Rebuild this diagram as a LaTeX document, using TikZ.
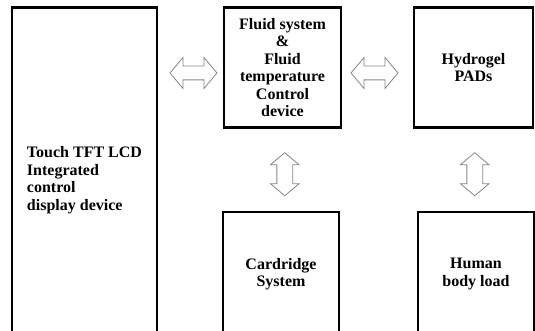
\documentclass[tikz,border=0pt]{standalone}
\usepackage{fontspec}
\setmainfont{Liberation Serif}
\usetikzlibrary{shapes.arrows,positioning,calc}
\definecolor{colArrow}{RGB}{135,135,135}

\begin{document}
\begin{tikzpicture}[
    x=1pt, y=-1pt,
    every node/.style={font=\bfseries\fontsize{16}{17.5}\selectfont},
    block/.style={draw, line width=2.5pt, align=center, inner sep=0pt},
    dblarrow/.style={double arrow, draw=colArrow, fill=white, line width=0.8pt,
        double arrow tip angle=100}
]
    \useasboundingbox (0,0) rectangle (535,331);
    \clip (0,0) rectangle (535,331);

    % display unit on the left (runs off the bottom edge)
    \node[block, align=left, minimum width=145pt, minimum height=345pt] (lcd) at (84.5,180)
        {Touch TFT LCD\\Integrated\\control\\display device};

    % upper row
    \node[block, minimum width=117pt, minimum height=120pt] (fluid) at (282.5,67.5)
        {Fluid system\\\&\\Fluid\\temperature\\Control\\device};
    \node[block, minimum width=119pt, minimum height=120pt] (pads) at (473.5,67.5)
        {Hydrogel\\PADs};

    % lower row, cut by the bottom edge
    \node[block, minimum width=116pt, minimum height=124pt] (cart) at (281,274)
        {Cardridge\\System};
    \node[block, minimum width=116pt, minimum height=124pt] (body) at (476,274)
        {Human\\body load};

    % two-way links, horizontal
    \node[dblarrow, inner sep=6.5pt, double arrow head extend=8.5pt, minimum height=47pt] (lcdfluid)
        at ($(lcd.east |- fluid.west)!.5!(fluid.west)+(3,5.5)$) {};
    \node[dblarrow, inner sep=6.5pt, double arrow head extend=8.5pt, minimum height=47pt] (fluidpads)
        at ($(fluid.east)!.5!(pads.west)+(-3,5.5)$) {};

    % two-way links, vertical
    \node[dblarrow, shape border rotate=90, inner sep=7.5pt, double arrow head extend=6.5pt,
        minimum height=43pt] (fluidcart)
        at ($(fluid.south)!.5!(cart.north)+(3,4.5)$) {};
    \node[dblarrow, shape border rotate=90, inner sep=7.5pt, double arrow head extend=6.5pt,
        minimum height=43pt] (padsbody)
        at ($(pads.south)!.5!(body.north)+(0,4.5)$) {};
\end{tikzpicture}
\end{document}
